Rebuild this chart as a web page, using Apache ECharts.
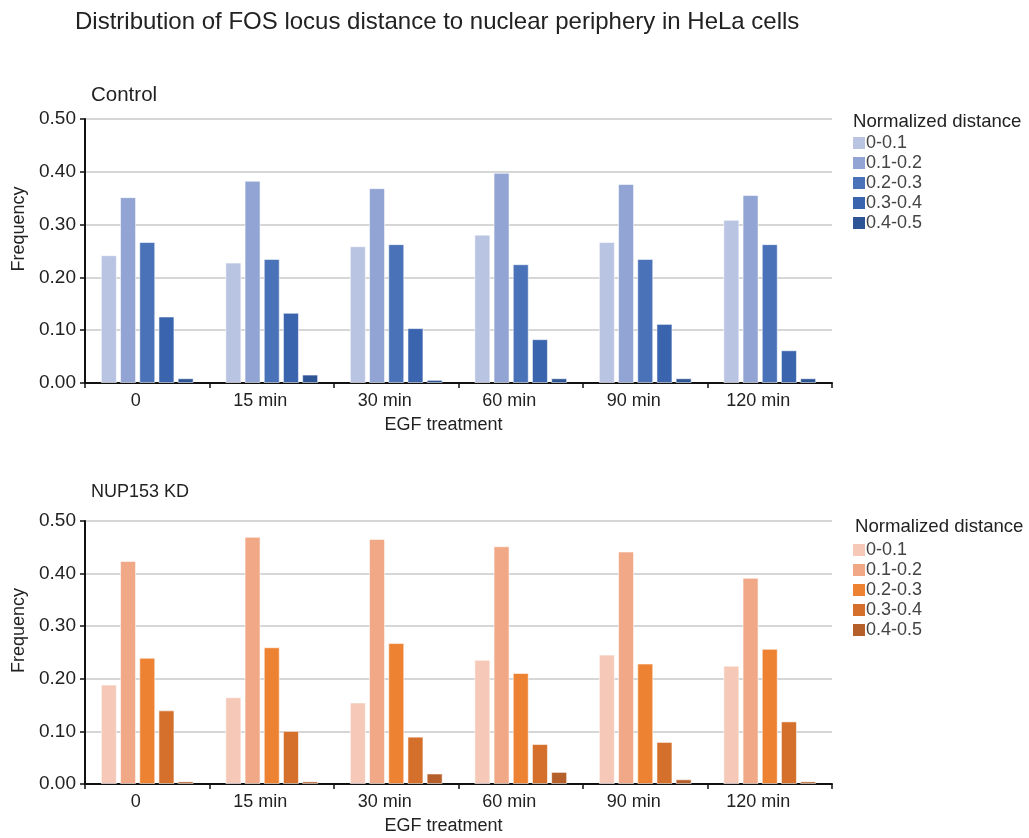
<!DOCTYPE html>
<html>
<head>
<meta charset="utf-8">
<script src="https://cdn.jsdelivr.net/npm/echarts@6/dist/echarts.min.js"></script>
<style>html,body{margin:0;padding:0;background:#fff}#c{width:1029px;height:838px}</style>
</head>
<body>
<div id="c"></div>
<script>
var categories = ['0', '15 min', '30 min', '60 min', '90 min', '120 min'];
var binNames = ['0-0.1', '0.1-0.2', '0.2-0.3', '0.3-0.4', '0.4-0.5'];
var yTicks = [0, 0.1, 0.2, 0.3, 0.4, 0.5];

// Control: one array per distance bin, across time points
var control_0_01 = [0.242, 0.228, 0.259, 0.281, 0.267, 0.309];
var control_01_02 = [0.352, 0.383, 0.369, 0.398, 0.377, 0.356];
var control_02_03 = [0.267, 0.235, 0.263, 0.225, 0.235, 0.263];
var control_03_04 = [0.126, 0.133, 0.104, 0.083, 0.112, 0.062];
var control_04_05 = [0.009, 0.016, 0.006, 0.009, 0.009, 0.009];

// NUP153 KD
var kd_0_01 = [0.189, 0.165, 0.155, 0.236, 0.246, 0.225];
var kd_01_02 = [0.424, 0.470, 0.466, 0.452, 0.442, 0.392];
var kd_02_03 = [0.240, 0.260, 0.268, 0.211, 0.229, 0.257];
var kd_03_04 = [0.140, 0.101, 0.090, 0.076, 0.080, 0.119];
var kd_04_05 = [0.005, 0.005, 0.020, 0.023, 0.009, 0.005];

var controlData = [control_0_01, control_01_02, control_02_03, control_03_04, control_04_05];
var kdData = [kd_0_01, kd_01_02, kd_02_03, kd_03_04, kd_04_05];

var blueColors = ['#b9c3e2', '#91a4d3', '#4a72b8', '#3a65ae', '#2d5596'];
var orangeColors = ['#f5c8b8', '#f1a886', '#ee8233', '#d4702b', '#b55f2a'];

var FONT = 'Liberation Sans, Arial, Helvetica, sans-serif';
var TXT = '#222';

var chart = echarts.init(document.getElementById('c'));

function xAxisDef(gridIndex) {
  return {
    type: 'category', gridIndex: gridIndex, data: categories,
    axisLine: {lineStyle: {color: '#111', width: 2}},
    axisTick: {show: true, length: 5, lineStyle: {color: '#111', width: 1.5}},
    axisLabel: {color: TXT, fontSize: 18, fontFamily: FONT, margin: 9,
      formatter: function (v) { return '{a|' + v + '}'; },
      rich: {a: {color: TXT, fontSize: 18, fontFamily: FONT, padding: [0, 23, 0, 0]}}},
    name: 'EGF treatment', nameLocation: 'middle', nameGap: 33,
    nameTextStyle: {color: TXT, fontSize: 18, fontFamily: FONT, padding: [0, 30, 0, 0]}
  };
}
function yAxisDef(gridIndex) {
  return {
    type: 'value', gridIndex: gridIndex, min: 0, max: 0.5, interval: 0.1,
    axisLine: {show: true, lineStyle: {color: '#111', width: 2}},
    axisTick: {show: true, length: 5, lineStyle: {color: '#111', width: 1.5}},
    splitLine: {show: true, lineStyle: {color: '#c8c8c8', width: 1.5}},
    axisLabel: {color: TXT, fontSize: 19, fontFamily: FONT, margin: 9,
      formatter: function (v) { return v.toFixed(2); }},
    name: 'Frequency', nameLocation: 'middle', nameGap: 57, nameRotate: 90,
    nameTextStyle: {color: TXT, fontSize: 18, fontFamily: FONT, padding: [0, 0, 0, 44]}
  };
}

var series = [];
binNames.forEach(function (b, i) {
  series.push({
    name: b, type: 'bar', xAxisIndex: 0, yAxisIndex: 0, data: controlData[i],
    barWidth: 16, barGap: '20%',
    itemStyle: {color: blueColors[i], borderColor: 'rgba(255,255,255,0.55)', borderWidth: 1},
    emphasis: {disabled: true}
  });
});
binNames.forEach(function (b, i) {
  series.push({
    name: 'kd' + b, type: 'bar', xAxisIndex: 1, yAxisIndex: 1, data: kdData[i],
    barWidth: 16, barGap: '20%',
    itemStyle: {color: orangeColors[i], borderColor: 'rgba(255,255,255,0.55)', borderWidth: 1},
    emphasis: {disabled: true}
  });
});

function legendDef(names, top, left, colors) {
  return {
    orient: 'vertical', left: left, top: top, padding: 0, itemWidth: 12, itemHeight: 12, itemGap: 0,
    icon: 'rect', selectedMode: false,
    data: names.map(function (n, i) { return {name: n, itemStyle: {color: colors[i], borderWidth: 0}}; }),
    formatter: function (n) { return n.replace(/^kd/, ''); },
    textStyle: {color: '#444', fontSize: 18, fontFamily: FONT, padding: [0, 0, 0, -4], lineHeight: 20}
  };
}

function t(text, left, top, size) {
  return {text: text, left: left, top: top, padding: 0,
    textStyle: {color: TXT, fontSize: size, fontWeight: 'normal', fontFamily: FONT}};
}

chart.setOption({
  animation: false,
  backgroundColor: '#fff',
  title: [
    t('Distribution of FOS locus distance to nuclear periphery in HeLa cells', 75, 10, 24),
    t('Control', 91, 85, 20.5),
    t('NUP153 KD', 91, 483, 18),
    t('Normalized distance', 853, 112, 18.6),
    t('Normalized distance', 855, 517, 18.6)
  ],
  legend: [
    legendDef(binNames, 133, 853, blueColors),
    legendDef(binNames.map(function (b) { return 'kd' + b; }), 540, 853, orangeColors)
  ],
  grid: [
    {left: 85, width: 747, top: 119, height: 264},
    {left: 85, width: 747, top: 521, height: 263}
  ],
  xAxis: [xAxisDef(0), xAxisDef(1)],
  yAxis: [yAxisDef(0), yAxisDef(1)],
  series: series
});
</script>
</body>
</html>
